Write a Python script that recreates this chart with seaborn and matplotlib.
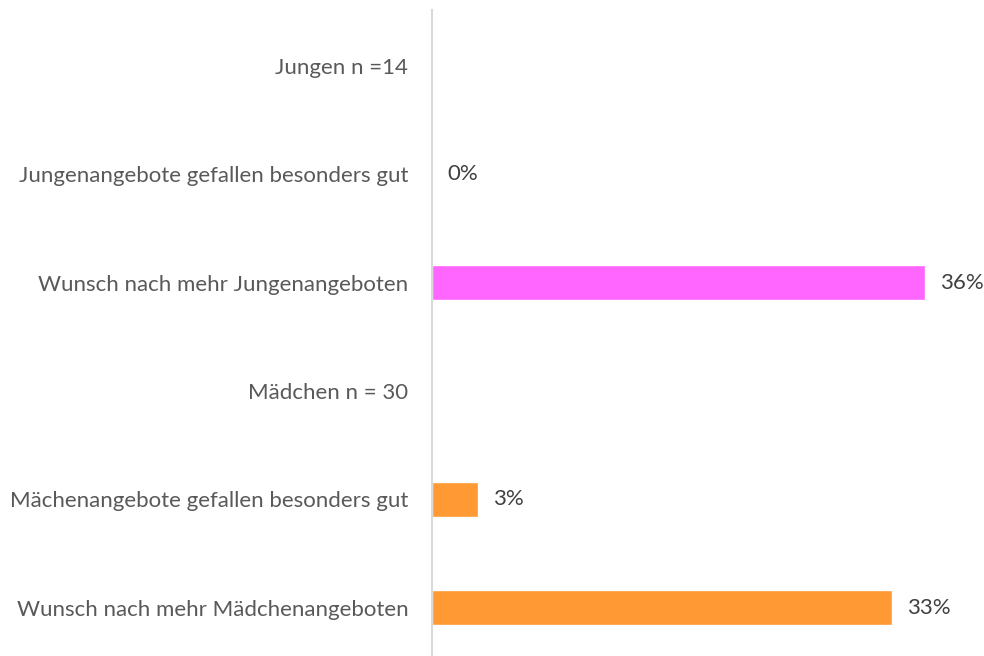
import matplotlib
matplotlib.use("Agg")
import matplotlib.pyplot as plt
import seaborn as sns
import pandas as pd

categories = [
    "Jungen n =14",
    "Jungenangebote gefallen besonders gut",
    "Wunsch nach mehr Jungenangeboten",
    "Mädchen n = 30",
    "Mächenangebote gefallen besonders gut",
    "Wunsch nach mehr Mädchenangeboten",
]
values = [0.0, 0.0, 0.357, 0.0, 0.033, 0.333]
labels = ["", "0%", "36%", "", "3%", "33%"]
colors = ["#FF66FF", "#FF66FF", "#FF66FF", "#FF9933", "#FF9933", "#FF9933"]

df = pd.DataFrame({"Kategorie": categories, "Anteil": values})

sns.set_style("white")
plt.rcParams["font.family"] = ["Lato", "DejaVu Sans"]

fig = plt.figure(figsize=(9.84, 6.56), dpi=100)
# axis runs from 10 px below the top to just past the bottom edge
ax = fig.add_axes([0.439, -0.0122, 0.561, 0.997])

sns.barplot(data=df, x="Anteil", y="Kategorie", hue="Kategorie",
            palette=dict(zip(categories, colors)), width=0.32, saturation=1,
            orient="h", legend=False, ax=ax)

ax.set_xlim(0, 0.4)
ax.set_ylim(5.52, -0.515)
ax.set_xlabel("")
ax.set_ylabel("")
ax.set_xticks([])
for s in ["top", "right", "bottom"]:
    ax.spines[s].set_visible(False)
ax.spines["left"].set_color("#D9D9D9")
ax.spines["left"].set_linewidth(1.5)
ax.tick_params(axis="y", length=0, pad=17, labelsize=16, labelcolor="#595959")

for i, (v, lab) in enumerate(zip(values, labels)):
    if lab:
        ax.annotate(lab, xy=(v, i), xytext=(11, 0), textcoords="offset points",
                    ha="left", va="center", fontsize=16, color="#404040")

fig.savefig("out.png", dpi=100)
